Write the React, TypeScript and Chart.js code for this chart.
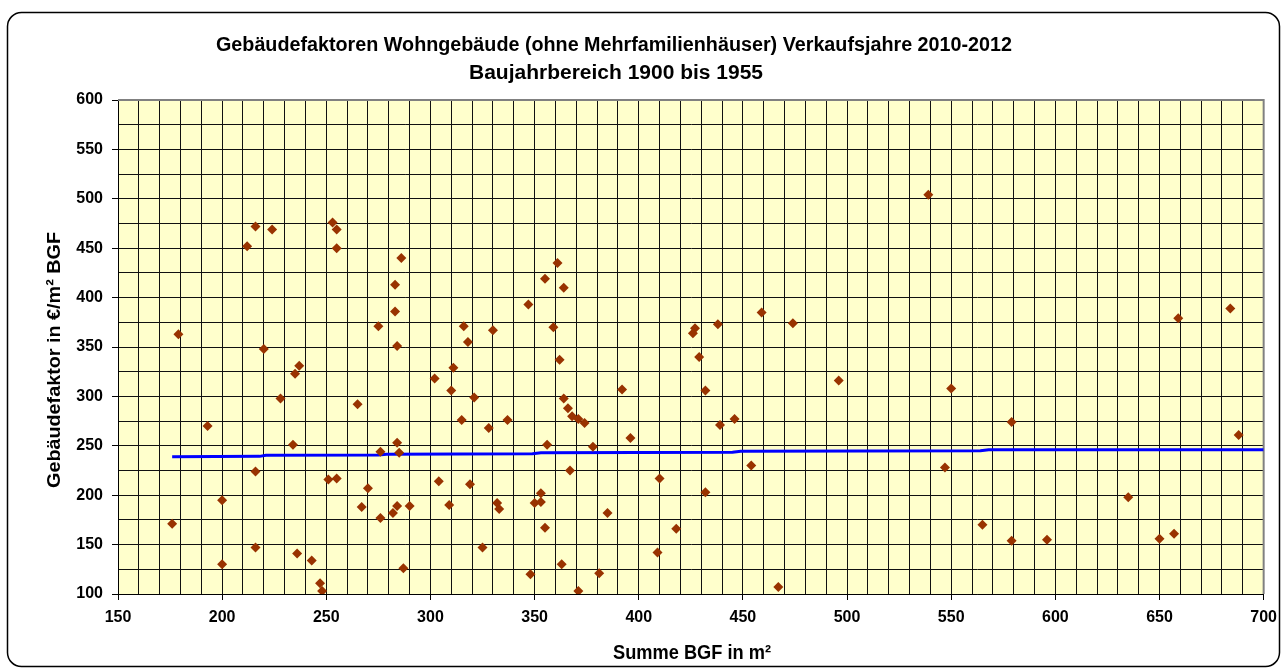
import { useEffect, useRef } from 'react';
import { Chart, registerables } from 'chart.js';

Chart.register(...registerables);

const TITLE_LINES = [
  'Gebäudefaktoren Wohngebäude (ohne Mehrfamilienhäuser) Verkaufsjahre 2010-2012',
  'Baujahrbereich 1900 bis 1955',
];
const X_TITLE = 'Summe BGF in m²';
const Y_TITLE = 'Gebäudefaktor in €/m² BGF';

const X_TICK_LABELS = [150, 200, 250, 300, 350, 400, 450, 500, 550, 600, 650, 700];
const Y_TICK_LABELS = [100, 150, 200, 250, 300, 350, 400, 450, 500, 550, 600];

// Scatter: Summe BGF (m²)
const bgfValues = [
  176, 179, 193, 200, 200, 212, 216, 224, 220, 216, 216, 228, 234, 235, 237, 236, 243, 247, 248, 251,
  255, 253, 255, 255, 265, 267, 270, 276, 276, 275, 282, 284, 284, 285, 284, 283, 283, 286, 290, 287,
  302, 311, 310, 316, 318, 321, 315, 328, 330, 304, 319, 309, 325, 332, 333, 355, 364, 347, 361, 359,
  362, 392, 364, 366, 368, 371, 374, 337, 396, 356, 378, 367, 353, 350, 353, 385, 355, 363, 381, 348,
  371, 459, 474, 438, 427, 426, 429, 432, 496, 439, 446, 410, 454, 432, 418, 409, 467, 539, 550, 684,
  659, 579, 688, 547, 635, 565, 579, 596, 650, 657,
];
// Scatter: Gebäudefaktor (€/m² BGF)
const factorValues = [
  171, 363, 270, 195, 130, 452, 472, 469, 348, 224, 147, 298, 251, 323, 331, 141, 134, 111, 103, 216,
  217, 476, 469, 450, 292, 188, 207, 244, 177, 371, 182, 189, 253, 243, 351, 413, 386, 440, 189, 126,
  318, 329, 306, 371, 355, 299, 276, 268, 367, 214, 211, 190, 147, 192, 186, 419, 410, 393, 435, 370,
  337, 307, 298, 288, 280, 277, 273, 276, 258, 251, 249, 225, 202, 192, 193, 182, 167, 130, 121, 120,
  103, 385, 374, 373, 369, 364, 340, 306, 316, 271, 277, 217, 230, 203, 166, 142, 107, 504, 308, 389,
  379, 274, 261, 228, 198, 170, 154, 155, 156, 161,
];

// Trend line (blue)
const trendBgf = [176, 218, 221, 275, 279, 349, 353, 445, 449, 564, 568, 700];
const trendFactor = [239, 239.3, 240.5, 240.7, 241.5, 242, 243, 243.5, 244.5, 245, 246, 246];

const FONT = "'Liberation Sans', Arial, sans-serif";

function fitText(
  ctx: CanvasRenderingContext2D,
  text: string,
  cx: number,
  cy: number,
  width: number,
  font: string,
  rotate = false,
) {
  ctx.save();
  ctx.font = font;
  const w = ctx.measureText(text).width;
  ctx.translate(cx, cy);
  if (rotate) ctx.rotate(-Math.PI / 2);
  ctx.scale(width / w, 1);
  ctx.textAlign = 'center';
  ctx.textBaseline = 'middle';
  ctx.fillStyle = '#000';
  ctx.fillText(text, 0, 0);
  ctx.restore();
}

const decoPlugin = {
  id: 'deco',
  beforeDraw(chart: any) {
    const { ctx, chartArea: a } = chart;
    ctx.save();
    ctx.fillStyle = '#ffffff';
    ctx.fillRect(0, 0, chart.width, chart.height);
    ctx.fillStyle = '#FFFFCC';
    ctx.fillRect(a.left, a.top, a.right - a.left, a.bottom - a.top);
    ctx.strokeStyle = '#000';
    ctx.lineWidth = 1.5;
    ctx.beginPath();
    (ctx as any).roundRect(7.5, 12.5, 1272, 654, 14);
    ctx.stroke();
    ctx.restore();
  },
  beforeDatasetsDraw(chart: any) {
    const { ctx, chartArea: a } = chart;
    ctx.save();
    ctx.strokeStyle = '#808080';
    ctx.lineWidth = 2;
    ctx.beginPath();
    ctx.moveTo(a.left, a.top);
    ctx.lineTo(a.right, a.top);
    ctx.lineTo(a.right, a.bottom);
    ctx.stroke();
    ctx.restore();
  },
  afterDraw(chart: any) {
    const { ctx } = chart;
    fitText(ctx, TITLE_LINES[0], 614, 45, 796, `bold 20px ${FONT}`);
    fitText(ctx, TITLE_LINES[1], 616, 73, 294, `bold 20px ${FONT}`);
    fitText(ctx, X_TITLE, 692, 653, 158, `bold 20px ${FONT}`);
    fitText(ctx, Y_TITLE, 55, 360, 256, `bold 19px ${FONT}`, true);
  },
};

export default function App() {
  const ref = useRef<HTMLCanvasElement>(null);

  useEffect(() => {
    const canvas = ref.current;
    if (!canvas) return;
    const points = bgfValues.map((x, i) => ({ x, y: factorValues[i] }));
    const trend = trendBgf.map((x, i) => ({ x, y: trendFactor[i] }));

    const chart = new Chart(canvas, {
      type: 'scatter',
      data: {
        datasets: [
          {
            label: 'Gebäudefaktor',
            data: points,
            pointStyle: 'rectRot',
            pointRadius: 5,
            pointBackgroundColor: '#993300',
            pointBorderColor: '#993300',
            pointBorderWidth: 0,
            showLine: false,
            order: 1,
          },
          {
            label: 'Trend',
            data: trend,
            showLine: true,
            borderColor: '#0000FF',
            borderWidth: 3,
            pointRadius: 0,
            tension: 0,
            order: 2,
          },
        ],
      },
      options: {
        responsive: false,
        animation: false,
        devicePixelRatio: 1,
        layout: { padding: { top: 100, right: 20, left: 0, bottom: 0 } },
        plugins: {
          legend: { display: false },
          tooltip: { enabled: false },
          title: { display: false },
        },
        scales: {
          x: {
            type: 'linear',
            min: 150,
            max: 700,
            afterFit: (scale: any) => {
              scale.height = 74;
            },
            ticks: {
              stepSize: 10,
              autoSkip: false,
              maxRotation: 0,
              padding: 8,
              color: '#000',
              font: { family: FONT, size: 16, weight: 'bold' },
              callback: (v: any) => (X_TICK_LABELS.includes(Number(v)) ? String(v) : ''),
            },
            grid: {
              color: '#111',
              lineWidth: 1,
              tickLength: 6,
              tickColor: (c: any) => (X_TICK_LABELS.includes(c.tick?.value) ? '#000' : 'rgba(0,0,0,0)'),
            },
            border: { color: '#000', width: 1 },
          },
          y: {
            type: 'linear',
            min: 100,
            max: 600,
            afterFit: (scale: any) => {
              scale.width = 118;
            },
            ticks: {
              stepSize: 25,
              autoSkip: false,
              padding: 9,
              color: '#000',
              font: { family: FONT, size: 16, weight: 'bold' },
              callback: (v: any) => (Y_TICK_LABELS.includes(Number(v)) ? String(v) : ''),
            },
            grid: {
              color: '#111',
              lineWidth: 1,
              tickLength: 6,
              tickColor: (c: any) => (Y_TICK_LABELS.includes(c.tick?.value) ? '#000' : 'rgba(0,0,0,0)'),
            },
            border: { color: '#000', width: 1 },
          },
        },
      },
      plugins: [decoPlugin],
    });
    return () => chart.destroy();
  }, []);

  return (
    <div style={{ position: 'fixed', left: 0, top: 0, width: 1285, height: 668, background: '#fff' }}>
      <canvas ref={ref} width={1285} height={668} style={{ display: 'block' }} />
    </div>
  );
}
